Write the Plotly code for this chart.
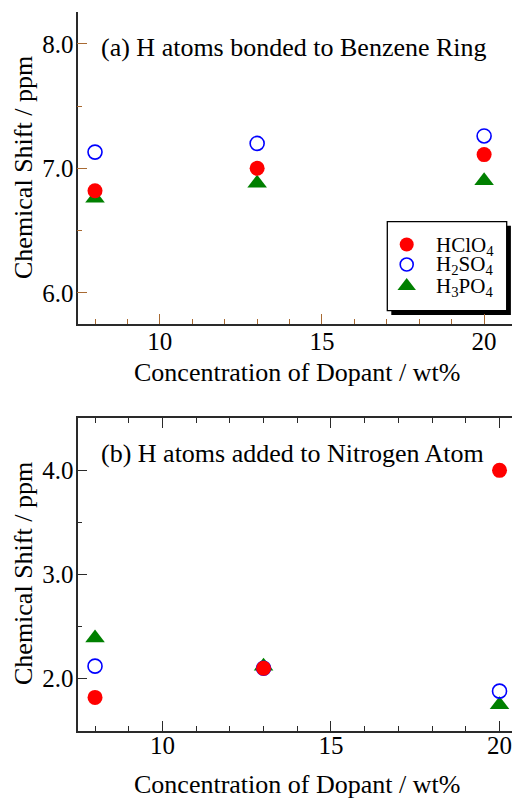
import plotly.graph_objects as go

# ---- data -------------------------------------------------------------
dopant_wt = [8, 13, 20]

# (a) H atoms bonded to the benzene ring
ring_hclo4 = [6.82, 7.00, 7.11]
ring_h2so4 = [7.13, 7.20, 7.26]
ring_h3po4 = [6.76, 6.88, 6.90]

# (b) H atoms added to the nitrogen atom
n_hclo4 = [1.82, 2.10, 4.00]
n_h2so4 = [2.12, 2.10, 1.88]
n_h3po4 = [2.39, 2.12, 1.75]

acid_labels = ["HClO<sub>4</sub>", "H<sub>2</sub>SO<sub>4</sub>", "H<sub>3</sub>PO<sub>4</sub>"]

# ---- figure geometry (pixels) -----------------------------------------
W, H = 512, 798
FONT = "Liberation Serif, Times New Roman, Times, serif"
BROWN = "#a86a32"
DARK = "#2a2a2a"


def px(x):
    return x / W


def py(y):
    return 1 - y / H


x_left = px(77.5)
top_dom = [py(324), py(12)]
bot_dom = [py(730.7), py(418.3)]

red = dict(symbol="circle", size=15, color="#ff0000", line=dict(width=0))
blue = dict(symbol="circle-open", size=14, color="#0000ff", line=dict(width=1.6, color="#0000ff"))
green = dict(symbol="triangle-up", size=17, color="#008000", line=dict(width=0))

fig = go.Figure()

# panel (a)
for ys, mk, nm in [(ring_h3po4, green, "H3PO4"), (ring_hclo4, red, "HClO4"), (ring_h2so4, blue, "H2SO4")]:
    fig.add_trace(go.Scatter(x=dopant_wt, y=ys, mode="markers", marker=mk, name=nm,
                             xaxis="x", yaxis="y", showlegend=False, cliponaxis=False))
# panel (b)
for ys, mk, nm in [(n_h3po4, green, "H3PO4"), (n_h2so4, blue, "H2SO4"), (n_hclo4, red, "HClO4")]:
    fig.add_trace(go.Scatter(x=dopant_wt, y=ys, mode="markers", marker=mk, name=nm,
                             xaxis="x2", yaxis="y2", showlegend=False, cliponaxis=False))

# legend symbols, placed on a full-page pixel axis
leg_marks = [dict(red, size=14), dict(blue, size=13), dict(green, size=16)]
leg_rows = [244.5, 264.5, 286.0]
for mk, row, lab in zip(leg_marks, leg_rows, acid_labels):
    fig.add_trace(go.Scatter(x=[406.7], y=[row], mode="markers", marker=mk, name=lab,
                             xaxis="x5", yaxis="y5", showlegend=False, cliponaxis=False))

tickfont = dict(family=FONT, size=25, color="black")


def xaxis_main(dom_y_anchor, rng, color, standoff):
    return dict(domain=[x_left, 1], range=rng, anchor=dom_y_anchor,
                tick0=0, dtick=5, ticks="inside", ticklen=10, tickwidth=1.3, tickcolor=color,
                minor=dict(dtick=1, ticks="inside", ticklen=5, tickwidth=1.3, tickcolor=color),
                showline=True, linecolor=DARK, linewidth=1.8, showgrid=False, zeroline=False,
                tickfont=tickfont, ticklabelstandoff=standoff, ticklabeloverflow="allow")


def yaxis_main(dom, anchor, rng, color):
    return dict(domain=dom, range=rng, anchor=anchor,
                tick0=0, dtick=1, tickformat=".1f", ticks="inside", ticklen=10, tickwidth=1.3,
                tickcolor=color,
                minor=dict(dtick=0.5, ticks="inside", ticklen=5, tickwidth=1.3, tickcolor=color),
                showline=True, linecolor=DARK, linewidth=1.8, showgrid=False, zeroline=False,
                tickfont=tickfont, ticklabelstandoff=-3)


def side_axis(overlay, anchor, side, rng, color, minor_len=1, dtick_minor=0.5):
    return dict(overlaying=overlay, anchor=anchor, side=side, range=rng,
                tick0=0, dtick=1, ticks="inside", ticklen=5, tickwidth=1.3, tickcolor=color,
                minor=dict(dtick=dtick_minor, ticks="inside", ticklen=minor_len, tickwidth=1.3,
                           tickcolor=color),
                showticklabels=False, showgrid=False, zeroline=False, showline=False)


fig.update_layout(
    width=W, height=H,
    margin=dict(l=0, r=0, t=0, b=0),
    paper_bgcolor="white", plot_bgcolor="rgba(0,0,0,0)",
    showlegend=False,
    font=dict(family=FONT, color="black"),
    # panel (a)
    xaxis=xaxis_main("y", [7.46, 20.86], BROWN, -6),
    yaxis=yaxis_main(top_dom, "x", [5.75, 8.255], BROWN),
    xaxis3=dict(side_axis("x", "y", "top", [-0.526, 11.82], BROWN, minor_len=0, dtick_minor=1),
                showline=True, linecolor=DARK, linewidth=1.8),
    yaxis3=side_axis("y", "x", "right", [-0.5, 3.5], BROWN),
    # panel (b)
    xaxis2=dict(xaxis_main("y2", [7.48, 20.37], DARK, -9), mirror="allticks"),
    yaxis2=yaxis_main(bot_dom, "x2", [1.5, 4.5], DARK),
    yaxis4=side_axis("y2", "x2", "right", [-0.58, 1.92], DARK),
    # full-page pixel frame for the legend
    xaxis5=dict(domain=[0, 1], range=[0, W], anchor="y5", visible=False),
    yaxis5=dict(domain=[0, 1], range=[H, 0], anchor="x5", visible=False),
)

# legend frame with drop shadow
fig.add_shape(type="rect", xref="paper", yref="paper",
              x0=px(391.3), x1=px(510.9), y0=py(314.9), y1=py(225.7),
              fillcolor="black", line=dict(width=0), layer="below")
fig.add_shape(type="rect", xref="paper", yref="paper",
              x0=px(387.3), x1=px(506.7), y0=py(310.7), y1=py(221.7),
              fillcolor="white", line=dict(width=1.3, color="black"), layer="below")

ann = []
for lab, row in zip(acid_labels, leg_rows):
    ann.append(dict(text=lab, x=px(434), y=py(row + 1), xref="paper", yref="paper",
                    xanchor="left", yanchor="middle", showarrow=False,
                    font=dict(family=FONT, size=21, color="black")))

title_font = dict(family=FONT, size=26, color="black")
ann += [
    dict(text="(a) H atoms bonded to Benzene Ring", x=px(99), y=py(47.5), xref="paper", yref="paper",
         xanchor="left", yanchor="middle", showarrow=False, font=title_font),
    dict(text="(b) H atoms added to Nitrogen Atom", x=px(99), y=py(453.5), xref="paper", yref="paper",
         xanchor="left", yanchor="middle", showarrow=False, font=title_font),
    dict(text="Concentration of Dopant / wt%", x=px(296.5), y=py(372), xref="paper", yref="paper",
         xanchor="center", yanchor="middle", showarrow=False, font=title_font),
    dict(text="Concentration of Dopant / wt%", x=px(296.5), y=py(784.5), xref="paper", yref="paper",
         xanchor="center", yanchor="middle", showarrow=False, font=title_font),
    dict(text="Chemical Shift / ppm", x=px(23), y=py(168), xref="paper", yref="paper",
         xanchor="center", yanchor="middle", textangle=-90, showarrow=False, font=title_font),
    dict(text="Chemical Shift / ppm", x=px(23), y=py(574), xref="paper", yref="paper",
         xanchor="center", yanchor="middle", textangle=-90, showarrow=False, font=title_font),
]
fig.update_layout(annotations=ann)

fig.write_html("out.html")
